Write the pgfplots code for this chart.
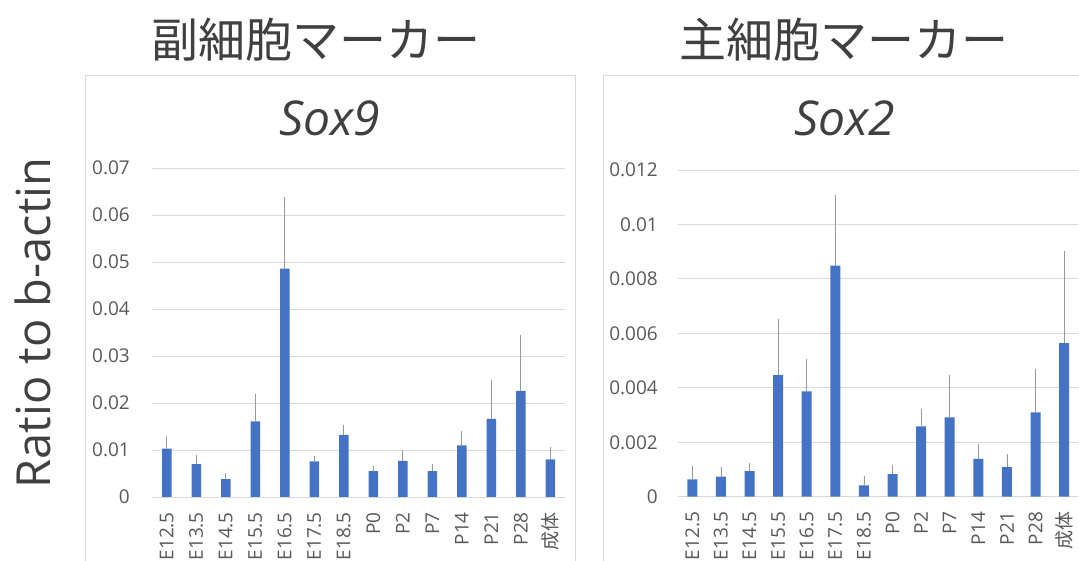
\documentclass[border=0pt]{standalone}
\usepackage{fontspec}
\setmainfont{Open Sans}
\newfontfamily\cjk{Noto Sans CJK JP}
\usepackage{pgfplots}
\usepackage{pgfplotstable}
\pgfplotsset{compat=1.18}

\definecolor{barblue}{HTML}{4472C4}
\definecolor{gridgray}{HTML}{D9D9D9}
\definecolor{tickgray}{HTML}{595959}
\definecolor{textgray}{HTML}{404040}
\definecolor{errgray}{HTML}{989898}
\definecolor{framegray}{HTML}{D9D9D9}

% x: stage index, y: ratio to b-actin, e: upper error
\pgfplotstableread{
x y e
0  0.0103 0.0025
1  0.0070 0.0017
2  0.0038 0.0010
3  0.0161 0.0056
4  0.0486 0.0150
5  0.0076 0.0009
6  0.0132 0.0018
7  0.0055 0.0009
8  0.0077 0.0020
9  0.0055 0.0013
10 0.0110 0.0027
11 0.0166 0.0080
12 0.0226 0.0117
13 0.0080 0.0023
}\soxnine

\pgfplotstableread{
x y e
0  0.00064 0.00046
1  0.00074 0.00030
2  0.00094 0.00025
3  0.00447 0.00203
4  0.00387 0.00116
5  0.00849 0.00254
6  0.00042 0.00028
7  0.00083 0.00030
8  0.00258 0.00059
9  0.00291 0.00153
10 0.00139 0.00049
11 0.00109 0.00044
12 0.00310 0.00154
13 0.00564 0.00334
}\soxtwo

\pgfplotsset{
  stagebars/.style={
    scale only axis,
    anchor=south west,
    xmin=-0.5, xmax=13.5,
    ymin=0,
    xtick={0,...,13},
    xticklabels={E12.5,E13.5,E14.5,E15.5,E16.5,E17.5,E18.5,P0,P2,P7,P14,P21,P28,{\cjk 成体}},
    axis line style={draw=none},
    major tick length=0pt,
    ymajorgrids,
    grid style={gridgray, line width=0.9bp},
    /pgf/number format/assume math mode=true,
    /pgf/number format/fixed,
    /pgf/number format/precision=3,
    scaled y ticks=false,
    yticklabel style={font=\fontsize{19bp}{19bp}\selectfont, text=tickgray, inner sep=0pt},
    xticklabel style={font=\fontsize{19bp}{19bp}\selectfont, text=tickgray, rotate=90, anchor=east, inner sep=0pt},
    xticklabel shift=15bp,
    ybar,
  },
  stageplot/.style={
    draw=none, fill=barblue,
    error bars/.cd,
      y dir=plus, y explicit,
      error bar style={color=errgray, line width=0.8bp},
      error mark options={color=errgray, mark size=1.2bp, line width=0.8bp},
  },
}

\begin{document}
\begin{tikzpicture}
\useasboundingbox (0,0) rectangle (1079bp,561bp);
\clip (0,0) rectangle (1079bp,561bp);

% chart frames
\draw[framegray, line width=1bp] (85bp,-10bp) -- (85bp,485bp) -- (575bp,485bp) -- (575bp,-10bp);
\draw[framegray, line width=1bp] (603bp,-10bp) -- (603bp,485bp) -- (1095bp,485bp);

% group headers
\node[text=textgray, font=\cjk\fontsize{47bp}{47bp}\selectfont] at (316bp,521bp) {副細胞マーカー};
\node[text=textgray, font=\cjk\fontsize{47bp}{47bp}\selectfont] at (844bp,521bp) {主細胞マーカー};

% shared y label
\node[text=textgray, rotate=90, inner sep=0pt, font=\fontsize{47bp}{47bp}\selectfont] at (32.5bp,238bp) {Ratio to b-actin};

% gene titles
\node[text=textgray, anchor=base, inner sep=0pt, font=\itshape\fontsize{48bp}{48bp}\selectfont] at (330bp,425bp) {Sox9};
\node[text=textgray, anchor=base, inner sep=0pt, font=\itshape\fontsize{48bp}{48bp}\selectfont] at (845bp,425bp) {Sox2};

\begin{axis}[stagebars,
  at={(152bp,64bp)}, width=413bp, height=329bp,
  ymax=0.07, ytick distance=0.01,
  bar width=9.5bp,
  yticklabel shift=22bp]
\addplot[stageplot] table[x=x, y=y, y error=e] {\soxnine};
\end{axis}

\begin{axis}[stagebars,
  at={(678bp,64.3bp)}, width=400.4bp, height=326.7bp,
  ymax=0.012, ytick distance=0.002,
  bar width=10bp,
  yticklabel shift=20bp]
\addplot[stageplot] table[x=x, y=y, y error=e] {\soxtwo};
\end{axis}
\end{tikzpicture}
\end{document}
